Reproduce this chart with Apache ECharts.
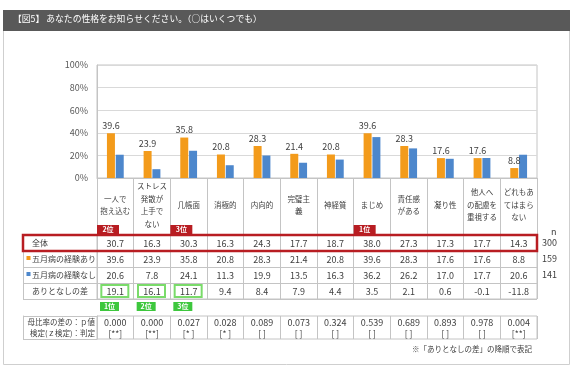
<!DOCTYPE html>
<html><head><meta charset="utf-8">
<script src="https://cdn.jsdelivr.net/npm/echarts@6/dist/echarts.min.js"></script>
<style>html,body{margin:0;padding:0;background:#fff}#c{width:576px;height:370px}</style>
</head><body><div id="c"></div>
<script>
// ---- data ----
const categories = ['一人で\n抱え込む', 'ストレス\n発散が\n上手で\nない', '几帳面', '消極的', '内向的', '完璧主\n義', '神経質', 'まじめ', '責任感\nがある', '凝り性', '他人へ\nの配慮を\n重視する', 'どれもあ\nてはまら\nない'];
const rowLabels = ['全体', '五月病の経験あり', '五月病の経験なし', 'ありとなしの差'];
const totalAll = [30.7, 16.3, 30.3, 16.3, 24.3, 17.7, 18.7, 38.0, 27.3, 17.3, 17.7, 14.3];
const withExp = [39.6, 23.9, 35.8, 20.8, 28.3, 21.4, 20.8, 39.6, 28.3, 17.6, 17.6, 8.8];
const withoutExp = [20.6, 7.8, 24.1, 11.3, 19.9, 13.5, 16.3, 36.2, 26.2, 17.0, 17.7, 20.6];
const diff = [19.1, 16.1, 11.7, 9.4, 8.4, 7.9, 4.4, 3.5, 2.1, 0.6, -0.1, -11.8];
const nValues = ['300', '159', '141', ''];
const totalRank = ['2位', '', '3位', '', '', '', '', '1位', '', '', '', ''];
const diffRank = ['1位', '2位', '3位', '', '', '', '', '', '', '', '', ''];
const pValues = ['0.000', '0.000', '0.027', '0.028', '0.089', '0.073', '0.324', '0.539', '0.689', '0.893', '0.978', '0.004'];
const judge = ['[**]', '[**]', '[* ]', '[* ]', '[ ]', '[ ]', '[ ]', '[ ]', '[ ]', '[ ]', '[ ]', '[**]'];
const pLabel = ['母比率の差の：ｐ値\n検定(ｚ検定)：判定'];
const yMax = 100, yStep = 20;
const titleText = '【図5】 あなたの性格をお知らせください。（○はいくつでも）';
const footText = '※「ありとなしの差」の降順で表記';

// ---- styles ----
const FONT = '"Noto Sans CJK JP", "Noto Sans", sans-serif';
const ORANGE = '#F39B1B', BLUE = '#4D87CC', TXT = '#404040', LINE = '#c4c4c4';
const RED = '#B81D22', GREEN = '#3DC73D';

const tableRows = [totalAll, withExp, withoutExp, diff];
const cellData = [], cellText = [];
tableRows.forEach((row, r) => row.forEach((v, c) => { cellData.push([c, r]); cellText.push(v.toFixed(1)); }));
const pData = pValues.map((v, c) => [c, 0]);

function txt(text, x, y, size, color, align, weight) {
  return { type: 'text', style: { text: text, x: x, y: y, fill: color, fontSize: size, fontFamily: FONT, fontWeight: weight || 'normal', align: align || 'center', verticalAlign: 'middle' } };
}

function renderCell(params, api) {
  const i = params.dataIndex;
  const col = api.value(0), row = api.value(1);
  const p = api.coord([col, row]);
  const sz = api.size([1, 1]);
  const ch = [];
  if (row === 3 && diffRank[col]) {
    ch.push({ type: 'rect', shape: { x: p[0] - 14, y: p[1] - sz[1] / 2 + 2, width: 27, height: sz[1] - 4 }, style: { fill: 'none', stroke: '#7ADB6A', lineWidth: 2 } });
    ch.push({ type: 'rect', shape: { x: p[0] - sz[0] / 2 + 3, y: p[1] + sz[1] / 2 + 3, width: 19, height: 9 }, style: { fill: GREEN } });
    ch.push(txt(diffRank[col], p[0] - sz[0] / 2 + 12.5, p[1] + sz[1] / 2 + 7.5, 7, '#fff', 'center', 'bold'));
  }
  if (row === 0 && totalRank[col]) {
    ch.push({ type: 'rect', shape: { x: p[0] - sz[0] / 2, y: p[1] - sz[1] / 2 - 10, width: 22, height: 9 }, style: { fill: RED } });
    ch.push(txt(totalRank[col], p[0] - sz[0] / 2 + 11, p[1] - sz[1] / 2 - 5.5, 7, '#fff', 'center', 'bold'));
  }
  ch.push(txt(cellText[i], p[0], p[1] + 0.5, 9, TXT));
  return { type: 'group', children: ch };
}

function renderRedBox(params, api) {
  const a = api.coord([0, 0]), b = api.coord([categories.length - 1, 0]), sz = api.size([1, 1]);
  return { type: 'rect', shape: { x: a[0] - sz[0] / 2 - 74, y: a[1] - sz[1] / 2, width: b[0] - a[0] + sz[0] + 74, height: sz[1] }, style: { fill: 'none', stroke: RED, lineWidth: 2.5 } };
}

function renderP(params, api) {
  const c = api.value(0);
  const p = api.coord([c, 0]);
  return { type: 'group', children: [txt(pValues[c], p[0], p[1] - 5, 9, TXT), txt(judge[c], p[0], p[1] + 6, 8.5, TXT)] };
}

const chart = echarts.init(document.getElementById('c'), null, { renderer: 'canvas' });
const catAxisBase = { type: 'category', data: categories, axisLabel: { show: false }, axisTick: { show: false }, axisLine: { show: false }, splitLine: { show: true, interval: 0, lineStyle: { color: LINE, width: 1 } } };

chart.setOption({
  backgroundColor: '#fff',
  animation: false,
  textStyle: { fontFamily: FONT },
  graphic: [
    { type: 'rect', shape: { x: 3.5, y: 30.5, width: 566, height: 334 }, style: { fill: '#fff', stroke: '#cfcfcf', lineWidth: 1 }, z: -10 },
    { type: 'rect', shape: { x: 3, y: 10, width: 567, height: 21 }, style: { fill: '#595959' }, z: -9 },
    { type: 'text', left: 13, top: 14.5, style: { text: titleText, fill: '#fff', fontSize: 8.8, fontFamily: FONT } },
    { type: 'text', left: 551, top: 227, style: { text: 'n', fill: TXT, fontSize: 9, fontFamily: FONT } },
    { type: 'text', right: 44, top: 345, style: { text: footText, fill: TXT, fontSize: 7.5, fontFamily: FONT } }
  ],
  grid: [
    { left: 97, top: 65, width: 440, height: 113, show: true, borderColor: LINE, borderWidth: 1, outerBoundsMode: 'none' },
    { left: 97, top: 235, width: 440, height: 64, show: true, borderColor: LINE, borderWidth: 1, outerBoundsMode: 'none' },
    { left: 97, top: 316, width: 440, height: 23, show: true, borderColor: LINE, borderWidth: 1, outerBoundsMode: 'none' }
  ],
  xAxis: [
    {
      gridIndex: 0, type: 'category', data: categories,
      axisLine: { show: true, lineStyle: { color: LINE } },
      axisTick: { show: true, interval: 0, length: 57, lineStyle: { color: LINE } },
      axisLabel: { show: true, interval: 0, fontSize: 7.5, lineHeight: 12.5, color: TXT, verticalAlign: 'middle', margin: 27, fontFamily: FONT },
      splitLine: { show: false }
    },
    Object.assign({ gridIndex: 1 }, catAxisBase),
    Object.assign({ gridIndex: 2 }, catAxisBase)
  ],
  yAxis: [
    {
      gridIndex: 0, type: 'value', min: 0, max: yMax, interval: yStep,
      axisLine: { show: true, lineStyle: { color: LINE } }, axisTick: { show: false },
      axisLabel: { formatter: '{value}%', fontSize: 9, color: '#595959', margin: 9, fontFamily: FONT },
      splitLine: { show: true, lineStyle: { color: '#d9d9d9' } }
    },
    {
      gridIndex: 1, type: 'category', data: rowLabels, inverse: true, position: 'left',
      axisLine: { show: true, lineStyle: { color: LINE } },
      axisTick: { show: true, interval: 0, length: 74, lineStyle: { color: LINE } },
      splitLine: { show: true, interval: 0, lineStyle: { color: LINE } },
      axisLabel: {
        interval: 0, align: 'left', margin: 71, color: TXT, fontSize: 8,
        formatter: v => v === rowLabels[1] ? '{mo|■}{t|' + v + '}' : v === rowLabels[2] ? '{mb|■}{t|' + v + '}' : '{p|' + v + '}',
        rich: {
          mo: { color: ORANGE, fontSize: 5, padding: [0, 1, 4, 0], fontFamily: FONT },
          mb: { color: BLUE, fontSize: 5, padding: [0, 1, 4, 0], fontFamily: FONT },
          t: { color: TXT, fontSize: 8, fontFamily: FONT },
          p: { color: TXT, fontSize: 8, padding: [0, 0, 0, 6], fontFamily: FONT }
        }
      }
    },
    { gridIndex: 1, type: 'category', data: rowLabels, position: 'left', offset: 74, axisLine: { show: true, lineStyle: { color: LINE } }, axisTick: { show: false }, axisLabel: { show: false }, splitLine: { show: false } },
    { gridIndex: 1, type: 'category', data: nValues, inverse: true, position: 'right', axisLine: { show: false }, axisTick: { show: false }, axisLabel: { interval: 0, margin: 5, fontSize: 9, color: TXT, fontFamily: FONT }, splitLine: { show: false } },
    {
      gridIndex: 2, type: 'category', data: pLabel, position: 'left',
      axisLine: { show: true, lineStyle: { color: LINE } },
      axisTick: { show: true, interval: 0, length: 74, lineStyle: { color: LINE } },
      axisLabel: { interval: 0, align: 'right', margin: 2, fontSize: 7.5, lineHeight: 11, color: TXT, fontFamily: FONT },
      splitLine: { show: false }
    },
    { gridIndex: 2, type: 'category', data: pLabel, position: 'left', offset: 74, axisLine: { show: true, lineStyle: { color: LINE } }, axisTick: { show: false }, axisLabel: { show: false }, splitLine: { show: false } }
  ],
  series: [
    {
      type: 'bar', name: '五月病の経験あり', xAxisIndex: 0, yAxisIndex: 0, data: withExp, barWidth: 8, barGap: '10%',
      itemStyle: { color: ORANGE },
      label: { show: true, position: 'top', distance: 3, fontSize: 9, color: TXT, fontFamily: FONT, formatter: p => p.value.toFixed(1) }
    },
    { type: 'bar', name: '五月病の経験なし', xAxisIndex: 0, yAxisIndex: 0, data: withoutExp, barWidth: 8, itemStyle: { color: BLUE } },
    { type: 'custom', xAxisIndex: 1, yAxisIndex: 1, data: cellData, renderItem: renderCell, clip: false, z: 3 },
    { type: 'custom', xAxisIndex: 1, yAxisIndex: 1, data: [[0, 0]], renderItem: renderRedBox, clip: false, z: 4 },
    { type: 'custom', xAxisIndex: 2, yAxisIndex: 4, data: pData, renderItem: renderP, clip: false, z: 3 }
  ]
});
</script></body></html>
